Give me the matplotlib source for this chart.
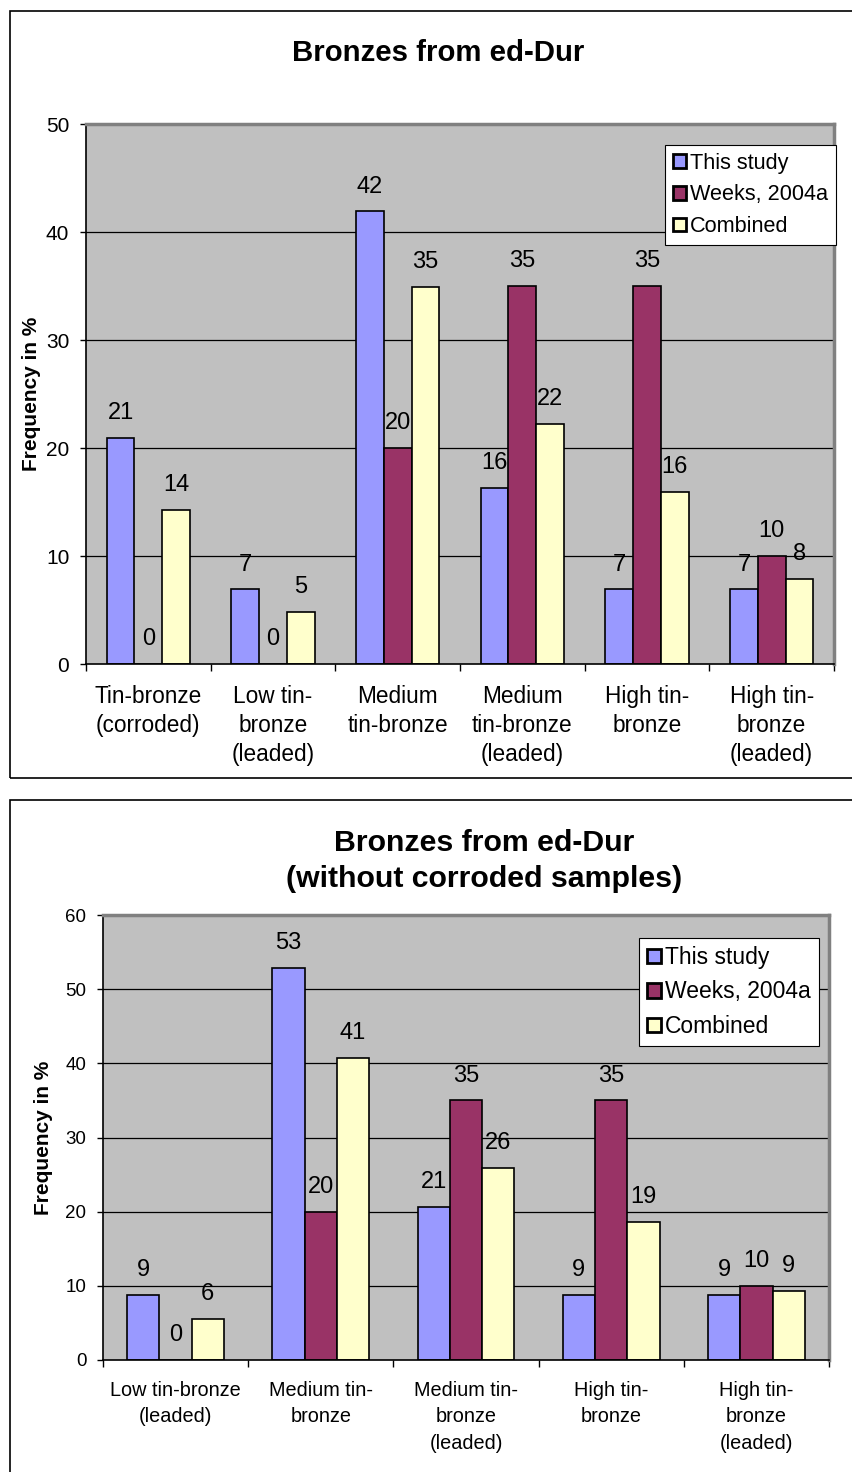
import numpy as np
import matplotlib
matplotlib.use('Agg')
import matplotlib.pyplot as plt
from matplotlib.patches import Rectangle

plt.rcParams['font.family'] = ['Liberation Sans', 'DejaVu Sans']

series_names = ['This study', 'Weeks, 2004a', 'Combined']
series_colors = ['#9999FF', '#993366', '#FFFFCC']

# top chart: all samples
cats_all = ['Tin-bronze\n(corroded)', 'Low tin-\nbronze\n(leaded)', 'Medium\ntin-bronze',
            'Medium\ntin-bronze\n(leaded)', 'High tin-\nbronze', 'High tin-\nbronze\n(leaded)']
this_study_all = [20.9, 6.9, 41.9, 16.3, 6.9, 6.9]
weeks_all = [0, 0, 20, 35, 35, 10]
combined_all = [14.3, 4.8, 34.9, 22.2, 15.9, 7.9]

# bottom chart: corroded samples left out
cats_nc = ['Low tin-bronze\n(leaded)', 'Medium tin-\nbronze', 'Medium tin-\nbronze\n(leaded)',
           'High tin-\nbronze', 'High tin-\nbronze\n(leaded)']
this_study_nc = [8.8, 52.9, 20.6, 8.8, 8.8]
weeks_nc = [0, 20, 35, 35, 10]
combined_nc = [5.5, 40.7, 25.9, 18.6, 9.3]

W, H = 852, 1472
fig = plt.figure(figsize=(W / 100, H / 100), dpi=100)
fig.patch.set_facecolor('white')


def fx(px):
    return px / W


def fy(py):
    return 1 - py / H


def draw_chart(ax, cats, values, ymax, title, title_xy, title_fs, cat_fs, cat_ls, tick_fs,
               val_fs, leg_pos, leg_fs, ylab_x):
    n = len(cats)
    x = np.arange(n) + 0.5
    w = 1 / 4.5
    ax.set_facecolor('#C0C0C0')
    ax.set_xlim(0, n)
    ax.set_ylim(0, ymax)
    ax.set_yticks(np.arange(0, ymax + 1, 10))
    for yv in np.arange(10, ymax, 10):
        ax.axhline(yv, color='black', lw=0.9, zorder=1)
    handles = []
    for i, (vals, col, name) in enumerate(zip(values, series_colors, series_names)):
        b = ax.bar(x + (i - 1) * w, vals, width=w, color=col, edgecolor='black',
                   lw=1.2, zorder=2, label=name)
        handles.append(b)
        for xi, v in zip(x + (i - 1) * w, vals):
            ax.annotate(f'{v:.0f}', (xi, v), xytext=(0, 10), textcoords='offset points',
                        ha='center', va='bottom', fontsize=val_fs, zorder=3)
    # category boundaries as ticks, names at the centers
    ax.set_xticks(np.arange(n + 1))
    ax.set_xticklabels([])
    ax.set_xticks(x, minor=True)
    ax.set_xticklabels(cats, minor=True, fontsize=cat_fs, linespacing=cat_ls)
    ax.tick_params(axis='x', which='major', direction='out', length=5, width=1)
    ax.tick_params(axis='x', which='minor', length=0, pad=15)
    ax.tick_params(axis='y', direction='out', length=4, width=1, pad=8, labelsize=tick_fs)
    for s in ['top', 'right']:
        ax.spines[s].set_color('#808080')
        ax.spines[s].set_linewidth(2.5)
    for s in ['left', 'bottom']:
        ax.spines[s].set_color('black')
        ax.spines[s].set_linewidth(1.2)
    fig.text(ylab_x, ax.get_position().y0 + ax.get_position().height / 2, 'Frequency in %',
             rotation=90, ha='center', va='center', fontsize=15, fontweight='bold')
    fig.text(title_xy[0], title_xy[1], title, ha='center', va='center', fontsize=title_fs,
             fontweight='bold', linespacing=1.4)
    leg = fig.legend(handles=handles, loc='upper left', bbox_to_anchor=leg_pos,
                     bbox_transform=fig.transFigure, borderaxespad=0, fontsize=leg_fs,
                     handlelength=0.6, handleheight=0.6, handletextpad=0.2,
                     labelspacing=0.5, borderpad=0.35, fancybox=False, framealpha=1,
                     edgecolor='black')
    leg.get_frame().set_linewidth(0.8)
    for p in leg.get_patches():
        p.set_linewidth(2)


# panel frames
fig.add_artist(Rectangle((fx(10), fy(778)), 1.0, (778 - 11) / H, transform=fig.transFigure,
                         fill=False, edgecolor='black', lw=1.2))
fig.add_artist(Rectangle((fx(10), fy(1500)), 1.0, (1500 - 800) / H, transform=fig.transFigure,
                         fill=False, edgecolor='black', lw=1.2))

ax1 = fig.add_axes([fx(86), fy(664), fx(834 - 86), (664 - 124) / H])
draw_chart(ax1, cats_all, [this_study_all, weeks_all, combined_all], 50,
           'Bronzes from ed-Dur', (fx(438), fy(53)), 21.2, 16.3, 1.33, 15, 17,
           (fx(665), fy(145)), 15.6, fx(32))

ax2 = fig.add_axes([fx(103), fy(1360), fx(829 - 103), (1360 - 915) / H])
draw_chart(ax2, cats_nc, [this_study_nc, weeks_nc, combined_nc], 60,
           'Bronzes from ed-Dur\n(without corroded samples)', (fx(484), fy(861)), 21.8,
           14.3, 1.5, 13.5, 17, (fx(639), fy(938)), 16.5, fx(44))

fig.savefig('out.png', dpi=100)
